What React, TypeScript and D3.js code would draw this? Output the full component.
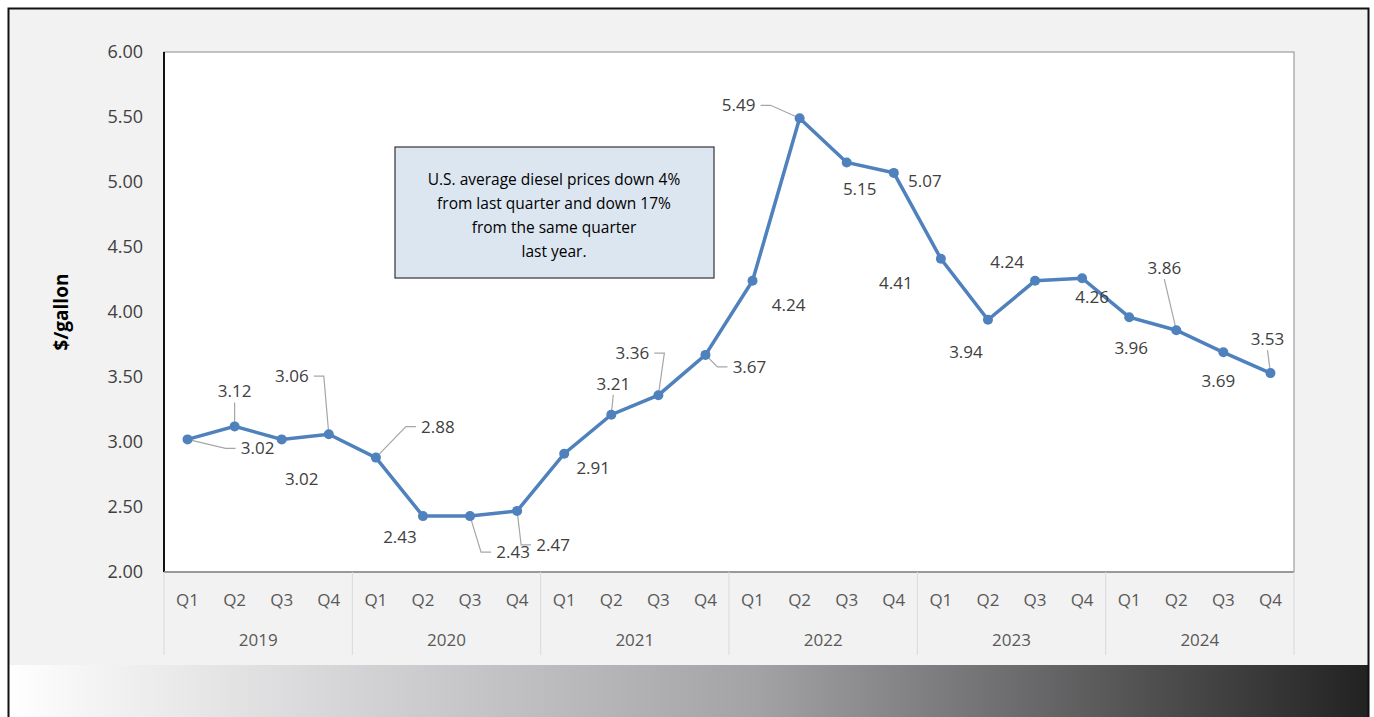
import React, { useEffect, useRef } from "react";
import * as d3 from "d3";

const years = ["2019", "2020", "2021", "2022", "2023", "2024"];
const quarters = ["Q1", "Q2", "Q3", "Q4"];
const prices = [3.02, 3.12, 3.02, 3.06, 2.88, 2.43, 2.43, 2.47, 2.91, 3.21, 3.36, 3.67, 4.24, 5.49, 5.15, 5.07, 4.41, 3.94, 4.24, 4.26, 3.96, 3.86, 3.69, 3.53];
const yTicks = [2, 2.5, 3, 3.5, 4, 4.5, 5, 5.5, 6];
const noteLines = ["U.S. average diesel prices down 4%", "from last quarter and down 17%", "from the same quarter", "last year."];

// label offsets from each point [dx, dy, leader]
const labelOffsets: [number, number, boolean][] = [
  [70, 9, true], [0, -35, true], [20, 40, false], [-37, -58, true], [62, -31, true], [-23, 21, false],
  [43, 36, true], [36, 34, true], [29, 14, false], [2, -31, true], [-26, -42, true], [44, 12, true],
  [36, 24, false], [-61, -13, true], [13, 27, false], [31, 8, false], [-45, 24, false], [-22, 32, false],
  [-28, -19, false], [10, 19, false], [2, 31, false], [-12, -62, true], [-5, 29, false], [-3, -34, true],
];

const W = 1374, H = 717;
const m = { left: 164, right: 1294, top: 52, bottom: 572 };

export default function App() {
  const ref = useRef<SVGSVGElement | null>(null);
  useEffect(() => {
    const svg = d3.select(ref.current!);
    svg.selectAll("*").remove();
    const font = "Open Sans, sans-serif";

    const grad = svg.append("defs").append("linearGradient").attr("id", "band");
    grad.append("stop").attr("offset", "0%").attr("stop-color", "#ffffff");
    grad.append("stop").attr("offset", "6%").attr("stop-color", "#f4f4f5");
    grad.append("stop").attr("offset", "55%").attr("stop-color", "#a3a3a6");
    grad.append("stop").attr("offset", "100%").attr("stop-color", "#222222");

    svg.append("rect").attr("x", 8).attr("y", 8).attr("width", 1360).attr("height", 709).attr("fill", "#f2f2f2");
    svg.append("rect").attr("x", 8).attr("y", 665).attr("width", 1360).attr("height", 52).attr("fill", "url(#band)");
    svg.append("path").attr("d", "M8.5,717V8.5H1368.5V717").attr("fill", "none").attr("stroke", "#111").attr("stroke-width", 2);

    const labels = years.flatMap((y) => quarters.map((q) => `${y}-${q}`));
    const x = d3.scaleBand().domain(labels).range([m.left, m.right]);
    const y = d3.scaleLinear().domain([2, 6]).range([m.bottom, m.top]);
    const cx = (i: number) => x(labels[i])! + x.bandwidth() / 2;

    svg.append("rect").attr("x", m.left).attr("y", m.top).attr("width", m.right - m.left).attr("height", m.bottom - m.top)
      .attr("fill", "#fff").attr("stroke", "#8c8c8c");
    svg.append("line").attr("x1", m.left).attr("x2", m.left).attr("y1", m.top).attr("y2", m.bottom).attr("stroke", "#111").attr("stroke-width", 2);
    svg.append("line").attr("x1", m.left).attr("x2", m.right).attr("y1", m.bottom).attr("y2", m.bottom).attr("stroke", "#8c8c8c").attr("stroke-width", 1.5);

    svg.append("g").selectAll("text").data(yTicks).join("text")
      .attr("x", 143).attr("y", (d) => y(d)).attr("dy", "0.35em").attr("text-anchor", "end")
      .attr("font-family", font).attr("font-size", 18).attr("fill", "#404040").text((d) => d.toFixed(2));

    svg.append("text").attr("transform", "translate(68,312) rotate(-90)").attr("text-anchor", "middle")
      .attr("font-family", font).attr("font-weight", "bold").attr("font-size", 19).attr("fill", "#000").text("$/gallon");

    // category axis
    const seps = d3.range(0, 25, 4).map((i) => (i < 24 ? x(labels[i])! : m.right));
    svg.append("g").selectAll("line").data(seps).join("line")
      .attr("x1", (d) => d).attr("x2", (d) => d).attr("y1", m.bottom).attr("y2", 655).attr("stroke", "#d9d9d9");
    svg.append("g").selectAll("text").data(labels).join("text")
      .attr("x", (_, i) => cx(i)).attr("y", 600).attr("dy", "0.35em").attr("text-anchor", "middle")
      .attr("font-family", font).attr("font-size", 17).attr("fill", "#595959").text((d) => d.split("-")[1]);
    svg.append("g").selectAll("text").data(years).join("text")
      .attr("x", (_, i) => (seps[i] + seps[i + 1]) / 2).attr("y", 640).attr("dy", "0.35em").attr("text-anchor", "middle")
      .attr("font-family", font).attr("font-size", 17).attr("fill", "#595959").text((d) => d);

    // note box
    svg.append("rect").attr("x", 395).attr("y", 147).attr("width", 319).attr("height", 131)
      .attr("fill", "#dce6f1").attr("stroke", "#333").attr("stroke-width", 1.2);
    svg.append("g").selectAll("text").data(noteLines).join("text")
      .attr("x", 554).attr("y", (_, i) => 180 + i * 24).attr("dy", "0.35em").attr("text-anchor", "middle")
      .attr("font-family", font).attr("font-size", 15.5).attr("fill", "#000").text((d) => d);

    // leader lines (elbow from label side to point)
    prices.forEach((v, i) => {
      const [dx, dy, leader] = labelOffsets[i];
      if (!leader) return;
      const px = cx(i), py = y(v);
      const lx = px + dx, ly = py + dy;
      let pts: [number, number][];
      if (Math.abs(dx) < 15) {
        const sy = ly + (dy < 0 ? 11 : -11);
        pts = [[lx, sy], [px, py]];
      } else {
        const sx = lx + (dx < 0 ? 22 : -22);
        const ex = sx + (dx < 0 ? 10 : -10);
        pts = [[sx, ly], [ex, ly], [px, py]];
      }
      svg.append("path").attr("d", d3.line()(pts)).attr("fill", "none")
        .attr("stroke", "#a6a6a6").attr("stroke-width", 1.2);
    });

    const line = d3.line<number>().x((_, i) => cx(i)).y((d) => y(d));
    svg.append("path").datum(prices).attr("d", line).attr("fill", "none").attr("stroke", "#4f81bd").attr("stroke-width", 3.5);
    svg.append("g").selectAll("circle").data(prices).join("circle")
      .attr("cx", (_, i) => cx(i)).attr("cy", (d) => y(d)).attr("r", 5).attr("fill", "#4f81bd");

    svg.append("g").selectAll("text").data(prices).join("text")
      .attr("x", (_, i) => cx(i) + labelOffsets[i][0]).attr("y", (d, i) => y(d) + labelOffsets[i][1]).attr("dy", "0.35em")
      .attr("text-anchor", "middle").attr("font-family", font).attr("font-size", 17).attr("fill", "#404040")
      .text((d) => d.toFixed(2));
  }, []);
  return <svg ref={ref} width={W} height={H} style={{ position: "absolute", left: 0, top: 0 }} />;
}
